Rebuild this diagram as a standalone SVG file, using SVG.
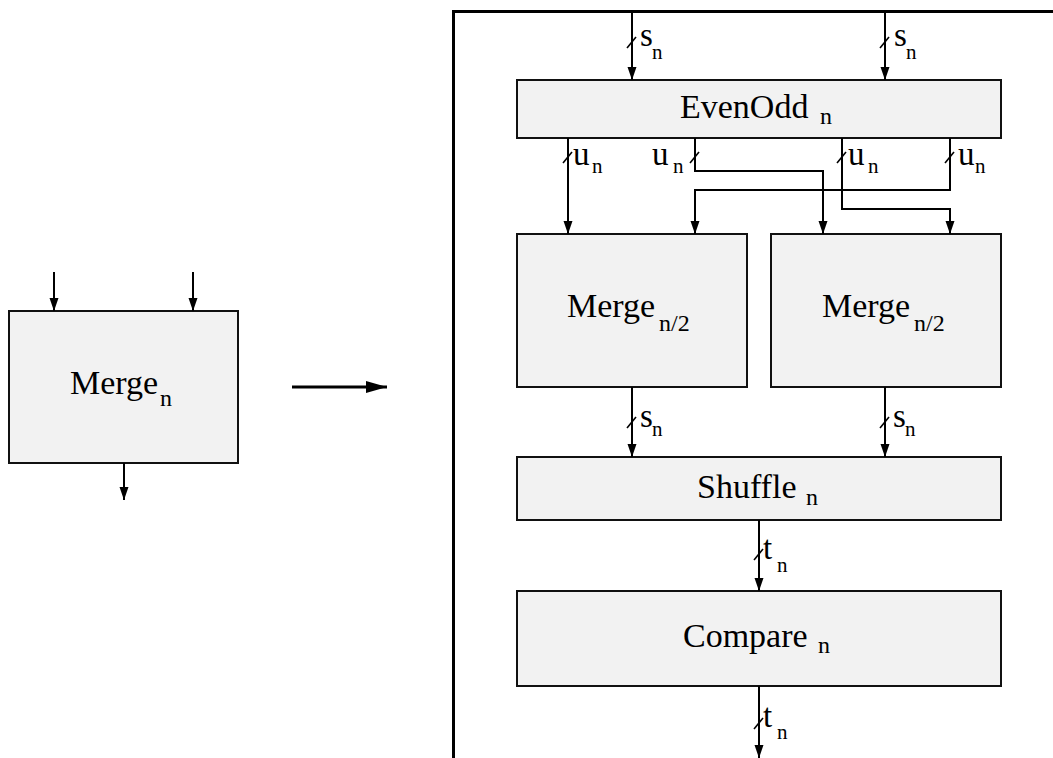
<svg xmlns="http://www.w3.org/2000/svg" width="1053" height="758" viewBox="0 0 1053 758">
  <style>
    .box { fill: #f2f2f2; stroke: #111; stroke-width: 2; }
    .wire { fill: none; stroke: #000; stroke-width: 2; }
    .tick { fill: none; stroke: #000; stroke-width: 1.6; }
    .frame { fill: none; stroke: #000; stroke-width: 3; }
    text { font-family: "Liberation Serif", "Times New Roman", serif; fill: #000; }
    .big { font-size: 34px; }
    .sub { font-size: 24px; }
    .lbl { font-size: 33px; }
    .lsub { font-size: 21px; }
  </style>
  <defs>
    <marker id="arrow" markerUnits="userSpaceOnUse" markerWidth="14" markerHeight="10" refX="13" refY="5" orient="auto">
      <path d="M0,0.5 L13,5 L0,9.5 Z" fill="#000"/>
    </marker>
    <marker id="bigArrow" markerUnits="userSpaceOnUse" markerWidth="22" markerHeight="14" refX="21" refY="7" orient="auto">
      <path d="M0,1 L21,7 L0,13 Z" fill="#000"/>
    </marker>
  </defs>

  <!-- collapsed block on the left -->
  <g id="merge-n">
    <rect class="box" x="9" y="311" width="229" height="152"/>
    <text class="big" x="70" y="394">Merge<tspan class="sub" x="160" y="406">n</tspan></text>
  </g>

  <!-- expansion frame -->
  <g id="frame">
    <path class="frame" d="M453.5,758 V11.5 H1053"/>
  </g>

  <g id="evenodd">
    <rect class="box" x="517" y="80" width="484" height="58"/>
    <text class="big" x="680" y="118">EvenOdd<tspan class="sub" x="820" y="124">n</tspan></text>
  </g>

  <g id="merge-left">
    <rect class="box" x="517" y="234" width="230" height="153"/>
    <text class="big" x="567" y="317">Merge<tspan class="sub" x="659" y="331">n/2</tspan></text>
  </g>

  <g id="merge-right">
    <rect class="box" x="771" y="234" width="230" height="153"/>
    <text class="big" x="822" y="317">Merge<tspan class="sub" x="914" y="331">n/2</tspan></text>
  </g>

  <g id="shuffle">
    <rect class="box" x="517" y="457" width="484" height="63"/>
    <text class="big" x="697" y="498">Shuffle<tspan class="sub" x="806" y="505">n</tspan></text>
  </g>

  <g id="compare">
    <rect class="box" x="517" y="591" width="484" height="95"/>
    <text class="big" x="683" y="647">Compare<tspan class="sub" x="818" y="653">n</tspan></text>
  </g>

  <g id="connectors">
    <!-- left block -->
    <line class="wire" x1="54" y1="272" x2="54" y2="311" marker-end="url(#arrow)"/>
    <line class="wire" x1="193" y1="272" x2="193" y2="311" marker-end="url(#arrow)"/>
    <line class="wire" x1="124" y1="463" x2="124" y2="500" marker-end="url(#arrow)"/>
    <line class="frame" x1="292" y1="387" x2="387" y2="387" marker-end="url(#bigArrow)"/>

    <!-- inputs to EvenOdd -->
    <line class="wire" x1="632" y1="12" x2="632" y2="80" marker-end="url(#arrow)"/>
    <line class="wire" x1="885" y1="12" x2="885" y2="80" marker-end="url(#arrow)"/>

    <!-- EvenOdd to the two half mergers -->
    <line class="wire" x1="568" y1="138" x2="568" y2="234" marker-end="url(#arrow)"/>
    <polyline class="wire" points="695,138 695,171 823,171 823,234" marker-end="url(#arrow)"/>
    <polyline class="wire" points="950,138 950,190 695,190 695,234" marker-end="url(#arrow)"/>
    <polyline class="wire" points="842,138 842,209 950,209 950,234" marker-end="url(#arrow)"/>

    <!-- half mergers to Shuffle -->
    <line class="wire" x1="632" y1="387" x2="632" y2="457" marker-end="url(#arrow)"/>
    <line class="wire" x1="885" y1="387" x2="885" y2="457" marker-end="url(#arrow)"/>

    <!-- Shuffle to Compare, Compare out -->
    <line class="wire" x1="759" y1="520" x2="759" y2="591" marker-end="url(#arrow)"/>
    <line class="wire" x1="759" y1="686" x2="759" y2="758" marker-end="url(#arrow)"/>

    <!-- bus width ticks -->
    <line class="tick" x1="627" y1="48" x2="636" y2="37"/>
    <line class="tick" x1="880" y1="48" x2="889" y2="37"/>
    <line class="tick" x1="563" y1="163" x2="572" y2="152"/>
    <line class="tick" x1="690" y1="163" x2="699" y2="152"/>
    <line class="tick" x1="837" y1="163" x2="846" y2="152"/>
    <line class="tick" x1="945" y1="163" x2="954" y2="152"/>
    <line class="tick" x1="627" y1="428" x2="636" y2="417"/>
    <line class="tick" x1="880" y1="428" x2="889" y2="417"/>
    <line class="tick" x1="754" y1="560" x2="763" y2="549"/>
    <line class="tick" x1="754" y1="729" x2="763" y2="718"/>
  </g>

  <g id="labels">
    <text class="lbl" x="640" y="46">s<tspan class="lsub" x="652" y="59">n</tspan></text>
    <text class="lbl" x="894" y="46">s<tspan class="lsub" x="906" y="59">n</tspan></text>
    <text class="lbl" x="573" y="165">u<tspan class="lsub" x="592" y="173">n</tspan></text>
    <text class="lbl" x="652" y="165">u<tspan class="lsub" x="673" y="173">n</tspan></text>
    <text class="lbl" x="848" y="165">u<tspan class="lsub" x="868" y="173">n</tspan></text>
    <text class="lbl" x="958" y="165">u<tspan class="lsub" x="975" y="173">n</tspan></text>
    <text class="lbl" x="640" y="427">s<tspan class="lsub" x="652" y="436">n</tspan></text>
    <text class="lbl" x="893" y="427">s<tspan class="lsub" x="905" y="436">n</tspan></text>
    <text class="lbl" x="763" y="559">t<tspan class="lsub" x="777" y="572">n</tspan></text>
    <text class="lbl" x="763" y="727">t<tspan class="lsub" x="777" y="739">n</tspan></text>
  </g>
</svg>
